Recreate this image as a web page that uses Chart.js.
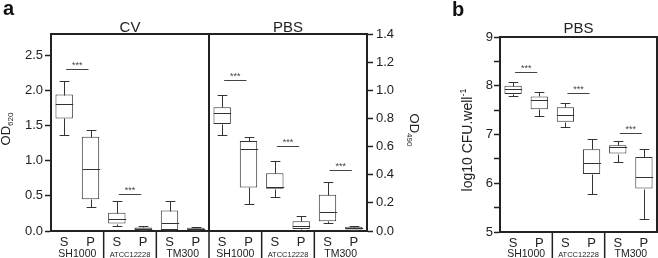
<!DOCTYPE html>
<html>
<head>
<meta charset="utf-8">
<script src="https://cdn.jsdelivr.net/npm/chart.js@4.4.0/dist/chart.umd.min.js"></script>
<style>
    html, body { margin: 0; padding: 0; background: #fff; }
    .wrap { position: relative; width: 658px; height: 258px; overflow: hidden; }
    #chartA { position: absolute; left: 0; top: 0; }
    #chartB { position: absolute; left: 440px; top: 0; }
</style>
</head>
<body>
<div class="wrap">
    <canvas id="chartA" width="440" height="258"></canvas>
    <canvas id="chartB" width="218" height="258"></canvas>
</div>
<script>
(function () {
    "use strict";

    // Data
    const sampleLabels = ["S", "P", "S", "P", "S", "P"];
    const strainNames = ["SH1000", "ATCC12228", "TM300"];

    // each box: [lower whisker, q1, median, q3, upper whisker]
    const cvBoxes = [
        [1.37, 1.6, 1.8, 1.94, 2.13],
        [0.34, 0.45, 0.88, 1.34, 1.44],
        [0.07, 0.105, 0.17, 0.26, 0.43],
        [0.01, 0.017, 0.03, 0.05, 0.077],
        [0.005, 0.015, 0.11, 0.29, 0.43],
        [0.01, 0.015, 0.03, 0.045, 0.06],
    ];
    const pbsBoxes = [
        [0.68, 0.76, 0.84, 0.88, 0.97],
        [0.195, 0.31, 0.585, 0.64, 0.667],
        [0.245, 0.3, 0.315, 0.41, 0.5],
        [0.005, 0.015, 0.034, 0.07, 0.107],
        [0.06, 0.07, 0.134, 0.257, 0.35],
        [0.005, 0.01, 0.02, 0.03, 0.034],
    ];
    const cfuBoxes = [
        [7.8, 7.83, 7.93, 8.0, 8.08],
        [7.38, 7.52, 7.71, 7.78, 7.87],
        [7.15, 7.26, 7.4, 7.56, 7.65],
        [5.77, 6.19, 6.41, 6.7, 6.91],
        [6.44, 6.61, 6.75, 6.78, 6.87],
        [5.27, 5.89, 6.12, 6.54, 6.7],
    ];

    // significance bars: [strain index, height]
    const cvSig = [[0, 2.3], [1, 0.52]];
    const pbsSig = [[0, 1.07], [1, 0.605], [2, 0.43]];
    const cfuSig = [[0, 8.28], [1, 7.85], [2, 7.04]];

    const cvTicks = [0, 0.5, 1, 1.5, 2, 2.5];
    const cvMax = 2.8;
    const pbsTicks = [0, 0.2, 0.4, 0.6, 0.8, 1, 1.2, 1.4];
    const cfuTicks = [5, 5.5, 6, 6.5, 7, 7.5, 8, 8.5, 9];

    const FONT = '"Liberation Sans", Arial, sans-serif';
    const INK = "#222";
    const nulls = (n) => new Array(n).fill(null);
    const toRange = (boxes) => boxes.map((b) => [b[1], b[3]]);

    // whiskers + medians on top of the floating bars
    const boxPlot = {
        id: "boxPlot",
        afterDatasetsDraw(chart) {
            const ctx = chart.ctx;
            chart.data.datasets.forEach((ds, di) => {
                const meta = chart.getDatasetMeta(di);
                const yScale = chart.scales[ds.yAxisID];
                meta.data.forEach((bar, i) => {
                    const b = ds.boxes[i - ds.offset];
                    if (!b) return;
                    const x = Math.round(bar.x) + 0.5;
                    const half = bar.width / 2;
                    const cap = bar.width * 0.28;
                    const py = (v) => Math.round(yScale.getPixelForValue(v)) + 0.5;
                    ctx.save();
                    ctx.strokeStyle = "#333";
                    ctx.lineWidth = 1;
                    ctx.beginPath();
                    ctx.moveTo(x, py(b[3]));
                    ctx.lineTo(x, py(b[4]));
                    ctx.moveTo(x - cap, py(b[4]));
                    ctx.lineTo(x + cap, py(b[4]));
                    ctx.moveTo(x, py(b[1]));
                    ctx.lineTo(x, py(b[0]));
                    ctx.moveTo(x - cap, py(b[0]));
                    ctx.lineTo(x + cap, py(b[0]));
                    ctx.moveTo(x - half, py(b[2]));
                    ctx.lineTo(x + half, py(b[2]));
                    ctx.stroke();
                    ctx.restore();
                });
            });
        },
    };

    function drawRotated(ctx, x, y, angle, parts) {
        ctx.save();
        ctx.translate(x, y);
        ctx.rotate(angle);
        let total = 0;
        parts.forEach((p) => {
            ctx.font = p.size + "px " + FONT;
            p.w = ctx.measureText(p.text).width;
            total += p.w;
        });
        let cx = -total / 2;
        ctx.fillStyle = INK;
        ctx.textBaseline = "alphabetic";
        ctx.textAlign = "left";
        parts.forEach((p) => {
            ctx.font = p.size + "px " + FONT;
            ctx.fillText(p.text, cx, p.shift || 0);
            cx += p.w;
        });
        ctx.restore();
    }

    // frame, group separators, strain names, titles, stars
    function makeDecor(cfg) {
        return {
            id: "decor",
            afterDraw(chart) {
                const ctx = chart.ctx;
                const area = chart.chartArea;
                const xs = chart.scales.x;
                const px = (i) => xs.getPixelForValue(i);
                const H = chart.height;
                ctx.save();
                ctx.strokeStyle = INK;
                ctx.lineWidth = 2;
                ctx.beginPath();
                ctx.moveTo(area.left - 1, area.top);
                ctx.lineTo(area.right + 1, area.top);
                if (cfg.rightLine) {
                    ctx.moveTo(area.right, area.top);
                    ctx.lineTo(area.right, area.bottom);
                }
                ctx.stroke();

                const n = chart.data.labels.length;
                ctx.lineWidth = 1.5;
                ctx.beginPath();
                for (let i = 1; i < n - 1; i += 2) {
                    const sx = (px(i) + px(i + 1)) / 2;
                    ctx.moveTo(sx, area.bottom);
                    ctx.lineTo(sx, H);
                }
                ctx.stroke();
                if (cfg.divider !== undefined) {
                    ctx.lineWidth = 2;
                    const dx = (px(cfg.divider) + px(cfg.divider + 1)) / 2;
                    ctx.beginPath();
                    ctx.moveTo(dx, area.top);
                    ctx.lineTo(dx, area.bottom);
                    ctx.stroke();
                }

                // strain names under each S/P pair
                ctx.fillStyle = INK;
                ctx.textAlign = "center";
                ctx.textBaseline = "alphabetic";
                for (let i = 0; i < n; i += 2) {
                    const name = strainNames[(i / 2) % strainNames.length];
                    const cx = (px(i) + px(i + 1)) / 2;
                    ctx.font = (name.length > 6 ? "7.5px " : "10.5px ") + FONT;
                    ctx.fillText(name, cx, 256.5);
                }

                // panel titles
                ctx.font = "15px " + FONT;
                cfg.titles.forEach((t) => {
                    const cx = (px(t.from) + px(t.to)) / 2;
                    ctx.fillText(t.text, cx, t.y);
                });

                // significance bars
                cfg.sig.forEach((set) => {
                    const yScale = chart.scales[set.axis];
                    set.data.forEach((s) => {
                        const i = set.offset + s[0] * 2;
                        const y = Math.round(yScale.getPixelForValue(s[1])) + 0.5;
                        const x1 = px(i) + 2;
                        const x2 = px(i + 1) - 2;
                        ctx.strokeStyle = "#444";
                        ctx.lineWidth = 1;
                        ctx.beginPath();
                        ctx.moveTo(x1, y);
                        ctx.lineTo(x2, y);
                        ctx.stroke();
                        ctx.fillStyle = "#444";
                        ctx.font = "9px " + FONT;
                        ctx.fillText("***", (x1 + x2) / 2, y - 2);
                    });
                });

                // panel letter
                ctx.fillStyle = "#111";
                ctx.textAlign = "left";
                ctx.font = "bold 20px " + FONT;
                ctx.fillText(cfg.letter.text, cfg.letter.x, cfg.letter.y);

                cfg.axisTitles.forEach((t) => drawRotated(ctx, t.x, t.y, t.angle, t.parts));
                ctx.restore();
            },
        };
    }

    function yAxis(position, ticks, max, width, padding, callback) {
        return {
            position: position,
            min: ticks[0],
            max: max,
            afterBuildTicks: (scale) => {
                scale.ticks = ticks.map((v) => ({ value: v }));
            },
            afterFit: (scale) => {
                scale.width = width;
            },
            ticks: {
                color: INK,
                padding: padding,
                font: { family: FONT, size: 13 },
                callback: callback,
            },
            grid: {
                display: true,
                drawOnChartArea: false,
                drawTicks: true,
                tickLength: 6,
                tickWidth: 1.5,
                color: INK,
            },
            border: { display: true, color: INK, width: 2 },
        };
    }

    const xAxis = (height) => ({
        afterFit: (scale) => {
            scale.height = height;
        },
        ticks: {
            color: INK,
            padding: 4,
            maxRotation: 0,
            autoSkip: false,
            font: { family: FONT, size: 13 },
        },
        grid: { display: false, drawTicks: false },
        border: { display: true, color: INK, width: 2 },
    });

    const barStyle = {
        backgroundColor: "#fff",
        borderColor: "#333",
        borderWidth: 1,
        borderSkipped: false,
        grouped: false,
        categoryPercentage: 1,
        barPercentage: 0.66,
    };

    // Panel a: CV (left axis) and PBS (right axis)
    new Chart(document.getElementById("chartA"), {
        type: "bar",
        data: {
            labels: sampleLabels.concat(sampleLabels),
            datasets: [
                Object.assign({
                    label: "CV",
                    yAxisID: "y",
                    data: toRange(cvBoxes).concat(nulls(6)),
                    boxes: cvBoxes,
                    offset: 0,
                }, barStyle),
                Object.assign({
                    label: "PBS",
                    yAxisID: "y1",
                    data: nulls(6).concat(toRange(pbsBoxes)),
                    boxes: pbsBoxes,
                    offset: 6,
                }, barStyle),
            ],
        },
        options: {
            responsive: false,
            animation: false,
            layout: { padding: { top: 34, left: 0, right: 0, bottom: 0 } },
            plugins: { legend: { display: false }, tooltip: { enabled: false } },
            scales: {
                x: xAxis(27),
                y: yAxis("left", cvTicks, cvMax, 51, 2, (v) => v.toFixed(1)),
                y1: yAxis("right", pbsTicks, pbsTicks[pbsTicks.length - 1], 73, 3, (v) => v.toFixed(1)),
            },
        },
        plugins: [
            boxPlot,
            makeDecor({
                divider: 5,
                titles: [
                    { text: "CV", from: 0, to: 5, y: 31.5 },
                    { text: "PBS", from: 6, to: 11, y: 31.5 },
                ],
                sig: [
                    { axis: "y", offset: 0, data: cvSig },
                    { axis: "y1", offset: 6, data: pbsSig },
                ],
                letter: { text: "a", x: 3, y: 15 },
                axisTitles: [
                    {
                        x: 10, y: 129, angle: -Math.PI / 2,
                        parts: [{ text: "OD", size: 13 }, { text: "620", size: 8, shift: 3 }],
                    },
                    {
                        x: 410, y: 130, angle: Math.PI / 2,
                        parts: [{ text: "OD", size: 13 }, { text: "490", size: 8, shift: 3 }],
                    },
                ],
            }),
        ],
    });

    // Panel b: CFU counts
    new Chart(document.getElementById("chartB"), {
        type: "bar",
        data: {
            labels: sampleLabels,
            datasets: [
                Object.assign({
                    label: "PBS",
                    yAxisID: "y",
                    data: toRange(cfuBoxes),
                    boxes: cfuBoxes,
                    offset: 0,
                }, barStyle),
            ],
        },
        options: {
            responsive: false,
            animation: false,
            layout: { padding: { top: 37, left: 0, right: 1, bottom: 0 } },
            plugins: { legend: { display: false }, tooltip: { enabled: false } },
            scales: {
                x: xAxis(26),
                y: yAxis("left", cfuTicks, cfuTicks[cfuTicks.length - 1], 60, 1,
                    (v) => (Number.isInteger(v) ? String(v) : "")),
            },
        },
        plugins: [
            boxPlot,
            makeDecor({
                rightLine: true,
                titles: [{ text: "PBS", from: 0, to: 5, y: 33 }],
                sig: [{ axis: "y", offset: 0, data: cfuSig }],
                letter: { text: "b", x: 12, y: 16 },
                axisTitles: [
                    {
                        x: 32, y: 140, angle: -Math.PI / 2,
                        parts: [{ text: "log10 CFU.well", size: 14 }, { text: "-1", size: 9, shift: -6 }],
                    },
                ],
            }),
        ],
    });
})();
</script>
</body>
</html>
